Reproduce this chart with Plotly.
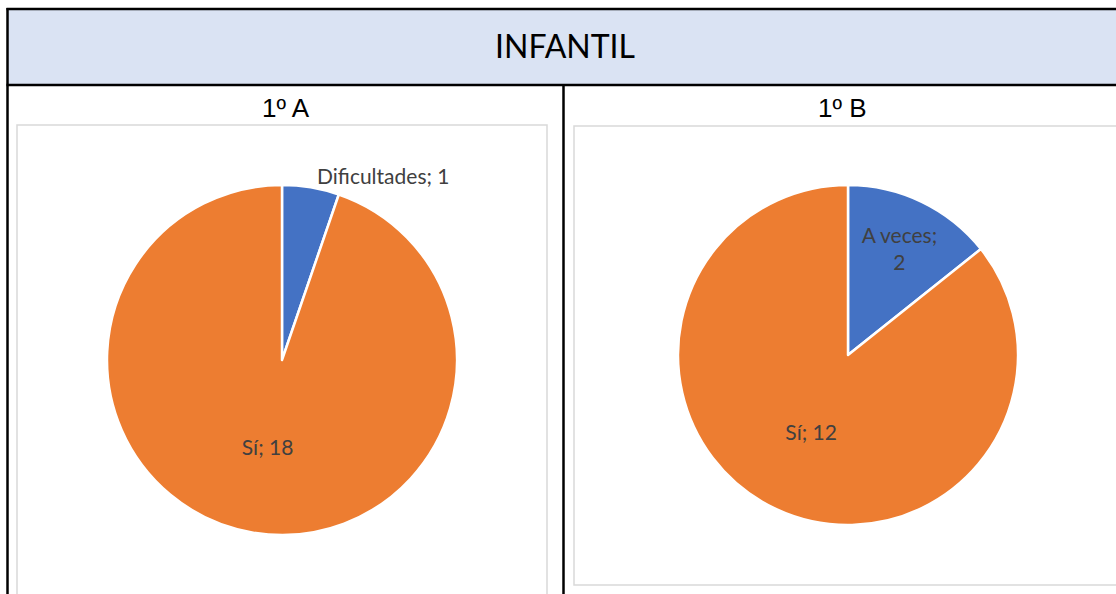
import plotly.graph_objects as go

W, H = 1116, 594

header_title = "INFANTIL"
chart_titles = ["1º A", "1º B"]

labels_a = ["Dificultades", "Sí"]
values_a = [1, 18]
labels_b = ["A veces", "Sí"]
values_b = [2, 12]

colors = ["#4472C4", "#ED7D31"]
FONT = "Lato, 'Open Sans', sans-serif"
TFONT = "'Liberation Sans', Lato, sans-serif"


def px(x):
    return x / W


def py(y):
    return 1 - y / H


fig = go.Figure()

fig.add_trace(go.Pie(
    labels=labels_a, values=values_a, sort=False, direction="clockwise", rotation=0,
    marker=dict(colors=colors, line=dict(color="white", width=2.5)),
    texttemplate=["%{label}; %{value}", "%{label}; %{value}"],
    textposition=["outside", "inside"],
    insidetextorientation="horizontal",
    textfont=dict(family=FONT, size=21, color="#404040"),
    domain=dict(x=[px(107), px(457)], y=[py(535), py(185)]),
    showlegend=False, hoverinfo="label+value",
))

fig.add_trace(go.Pie(
    labels=labels_b, values=values_b, sort=False, direction="clockwise", rotation=0,
    marker=dict(colors=colors, line=dict(color="white", width=2.5)),
    texttemplate=["%{label};<br>%{value}", "%{label}; %{value}"],
    textposition=["inside", "inside"],
    insidetextorientation="horizontal",
    textfont=dict(family=FONT, size=21, color="#404040"),
    domain=dict(x=[px(678), px(1018)], y=[py(525), py(185)]),
    showlegend=False, hoverinfo="label+value",
))

shapes = [
    # header band
    dict(type="rect", xref="paper", yref="paper", x0=px(7.5), x1=px(1130), y0=py(85), y1=py(9),
         fillcolor="#DAE3F3", line=dict(width=0), layer="below"),
    # chart boxes
    dict(type="rect", xref="paper", yref="paper", x0=px(17), x1=px(547), y0=py(605), y1=py(125),
         line=dict(color="#D9D9D9", width=1.5), layer="below"),
    dict(type="rect", xref="paper", yref="paper", x0=px(574), x1=px(1130), y0=py(585), y1=py(126),
         line=dict(color="#D9D9D9", width=1.5), layer="below"),
    # table borders
    dict(type="line", xref="paper", yref="paper", x0=px(7.5), x1=px(7.5), y0=py(610), y1=py(8),
         line=dict(color="black", width=2.5)),
    dict(type="line", xref="paper", yref="paper", x0=px(6.5), x1=px(1130), y0=py(9), y1=py(9),
         line=dict(color="black", width=2.5)),
    dict(type="line", xref="paper", yref="paper", x0=px(6.5), x1=px(1130), y0=py(85), y1=py(85),
         line=dict(color="black", width=2.5)),
    dict(type="line", xref="paper", yref="paper", x0=px(563.5), x1=px(563.5), y0=py(610), y1=py(85),
         line=dict(color="black", width=2.5)),
]

annotations = [
    dict(text=header_title, x=px(564.5), y=py(46), xref="paper", yref="paper", showarrow=False,
         font=dict(family=FONT, size=32, color="black"), xanchor="center", yanchor="middle"),
    dict(text=chart_titles[0], x=px(286), y=py(108), xref="paper", yref="paper", showarrow=False,
         font=dict(family=TFONT, size=26, color="black"), xanchor="center", yanchor="middle"),
    dict(text=chart_titles[1], x=px(842.5), y=py(108), xref="paper", yref="paper", showarrow=False,
         font=dict(family=TFONT, size=26, color="black"), xanchor="center", yanchor="middle"),
]

fig.update_layout(
    width=W, height=H,
    margin=dict(l=0, r=0, t=0, b=0),
    paper_bgcolor="white", plot_bgcolor="white",
    shapes=shapes, annotations=annotations,
    font=dict(family=FONT),
)

fig.write_html(
    "out.html",
    config={"displayModeBar": False},
    post_script="document.body.style.margin='0';document.body.style.padding='0';",
)
